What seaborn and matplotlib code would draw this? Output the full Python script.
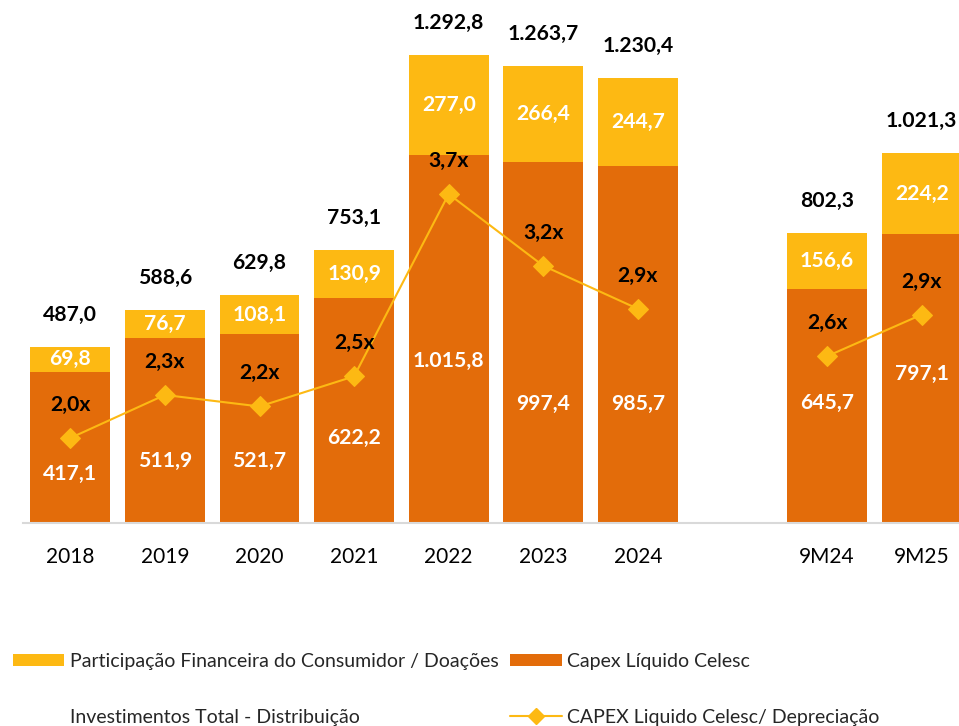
import matplotlib
matplotlib.use('Agg')
import matplotlib.pyplot as plt
import seaborn as sns
import pandas as pd
from matplotlib.patches import Patch
from matplotlib.lines import Line2D

# ---------------- data ----------------
categories = ['2018', '2019', '2020', '2021', '2022', '2023', '2024', '9M24', '9M25']
capex_liquido = [417.1, 511.9, 521.7, 622.2, 1015.8, 997.4, 985.7, 645.7, 797.1]
participacao = [69.8, 76.7, 108.1, 130.9, 277.0, 266.4, 244.7, 156.6, 224.2]
total = [487.0, 588.6, 629.8, 753.1, 1292.8, 1263.7, 1230.4, 802.3, 1021.3]
ratio = [2.0, 2.3, 2.22, 2.43, 3.7, 3.2, 2.9, 2.57, 2.86]
ratio_labels = ['2,0x', '2,3x', '2,2x', '2,5x', '3,7x', '3,2x', '2,9x', '2,6x', '2,9x']
period_group = ['anual'] * 7 + ['9M'] * 2

legend_labels = ['Participação Financeira do Consumidor / Doações',
                 'Investimentos Total - Distribuição',
                 'Capex Líquido Celesc',
                 'CAPEX Liquido Celesc/ Depreciação']

# ---------------- style ----------------
ORANGE = '#E36C0A'
YELLOW = '#FDB913'
LINE = '#FDB913'
FONT = ['Lato', 'DejaVu Sans']
sns.set_theme(style='white')
plt.rcParams['font.family'] = FONT

# manual vertical nudges (pixels, + = down) for bottom-segment labels
bottom_label_shift_px = [26, 31, 32, 28, 22, 61, 59, -3, -5]

order = categories[:7] + [' '] + categories[7:]
pos = {c: i for i, c in enumerate(order)}

df = pd.DataFrame({'cat': categories, 'capex': capex_liquido, 'part': participacao,
                   'total': total, 'ratio': ratio, 'grp': period_group})
df['pos'] = df['cat'].map(pos)

def br(v):
    s = f"{v:,.1f}"
    return s.replace(',', 'X').replace('.', ',').replace('X', '.')

W, H = 959, 726
fig = plt.figure(figsize=(W / 100, H / 100), dpi=100)
ax_left, ax_right, ax_top, ax_bottom = 23, 969, 0, 523
ax = fig.add_axes([ax_left / W, (H - ax_bottom) / H, (ax_right - ax_left) / W, (ax_bottom - ax_top) / H])

bw = 0.845
sns.barplot(data=df, x='cat', y='total', order=order, color=YELLOW, saturation=1,
            width=bw, errorbar=None, linewidth=0, ax=ax)
sns.barplot(data=df, x='cat', y='capex', order=order, color=ORANGE, saturation=1,
            width=bw, errorbar=None, linewidth=0, ax=ax)
ax.set_ylim(0, 1445)
ax.set_xlim(-0.5, len(order) - 0.5)
ax.set_xlabel('')
ax.set_ylabel('')
ax.set_yticks([])
for s in ['top', 'right', 'left']:
    ax.spines[s].set_visible(False)
ax.spines['bottom'].set_color('#D9D9D9')
ax.spines['bottom'].set_linewidth(1.5)
ax.tick_params(axis='x', length=0, pad=17, labelsize=15, labelcolor='black')

px2pt = 0.72
lab_fs = 15.2
for i, r in df.iterrows():
    x = r['pos']
    ax.annotate(br(r['total']), (x, r['total']), xytext=(0, 32 * px2pt), textcoords='offset points',
                ha='center', va='center', fontsize=lab_fs, fontweight='bold', color='black')
    ax.annotate(br(r['part']), (x, r['capex'] + r['part'] / 2), ha='center', va='center',
                fontsize=lab_fs, fontweight='bold', color='white')
    ax.annotate(br(r['capex']), (x, r['capex'] / 2),
                xytext=(0, -bottom_label_shift_px[i] * px2pt), textcoords='offset points',
                ha='center', va='center', fontsize=lab_fs, fontweight='bold', color='white')

ax2 = ax.twinx()
sns.lineplot(data=df, x='pos', y='ratio', units='grp', estimator=None, color=LINE,
             marker='D', markersize=10, markeredgecolor=LINE, linewidth=1.5,
             legend=False, ax=ax2)
ax2.set_ylim(1.408, 5.052)
ax2.set_xlim(-0.5, len(order) - 0.5)
ax2.set_yticks([])
ax2.set_ylabel('')
ax2.set_xlabel('')
for s in ['top', 'right', 'left', 'bottom']:
    ax2.spines[s].set_visible(False)
for i, r in df.iterrows():
    ax2.annotate(ratio_labels[i], (r['pos'], r['ratio']), xytext=(0, 33 * px2pt),
                 textcoords='offset points', ha='center', va='center',
                 fontsize=lab_fs, fontweight='bold', color='black')

handles = [Patch(facecolor=YELLOW, edgecolor='none'),
           Line2D([], [], color='none'),
           Patch(facecolor=ORANGE, edgecolor='none'),
           Line2D([], [], color=LINE, marker='D', markersize=8, linewidth=1.5)]
fig.legend(handles, legend_labels, loc='upper left', bbox_to_anchor=(13 / W, 1 - 653 / H),
           ncol=2, frameon=False, fontsize=14, handlelength=2.63, handleheight=0.62,
           handletextpad=0.3, columnspacing=0.6, labelspacing=2.0, borderpad=0,
           borderaxespad=0)

fig.savefig('out.png', dpi=100)
